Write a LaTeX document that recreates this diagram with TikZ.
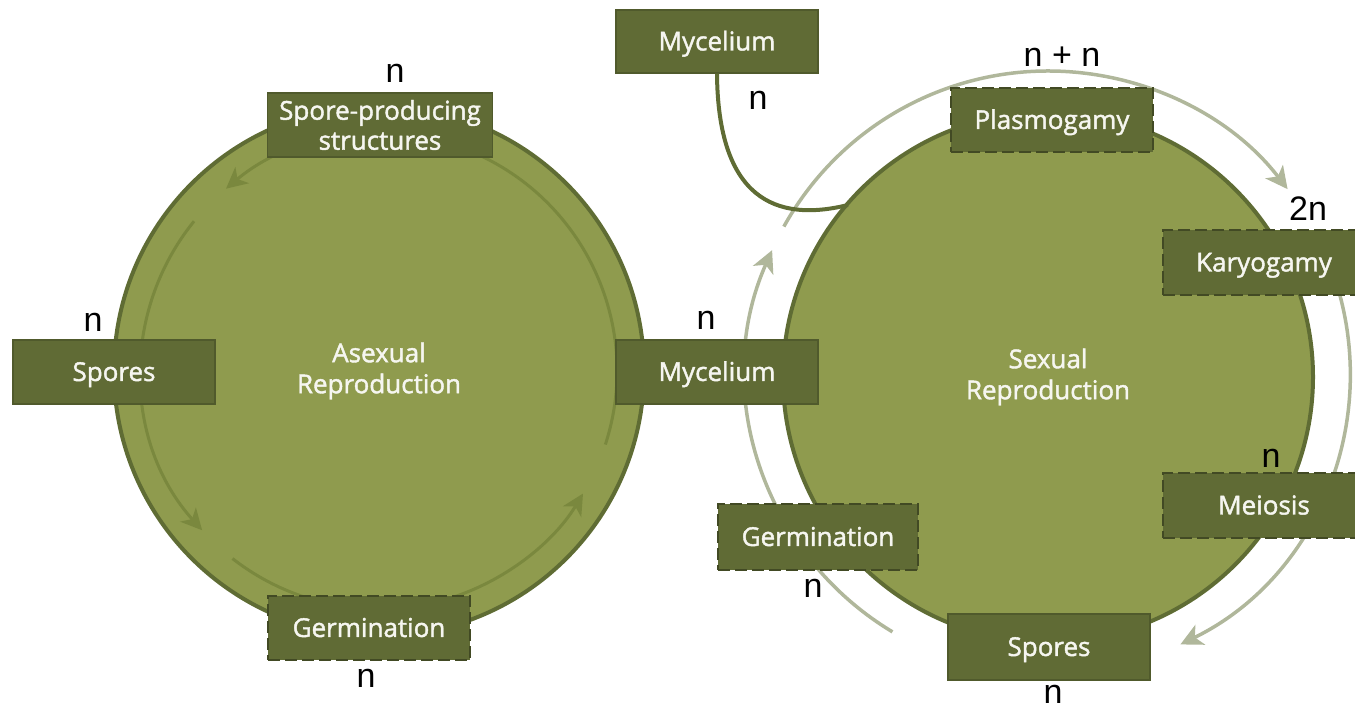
\documentclass[tikz,border=0pt]{standalone}
\usepackage{fontspec}
\setmainfont{Open Sans}
\newfontfamily\boxfont{Open Sans}[RawFeature={embolden=1.6}]
\newfontfamily\labelfont{Liberation Sans}
\usetikzlibrary{arrows.meta}
\definecolor{circfill}{RGB}{143,155,78}
\definecolor{circline}{RGB}{95,108,52}
\definecolor{boxfill}{RGB}{96,107,53}
\definecolor{boxline}{RGB}{80,90,44}
\definecolor{dashline}{RGB}{66,74,36}
\definecolor{innerarc}{RGB}{122,136,62}
\definecolor{outerarc}{RGB}{176,183,155}
\definecolor{txt}{RGB}{246,246,240}
\begin{document}
\begin{tikzpicture}[x=1pt,y=1pt,
  box/.style={draw=boxline, fill=boxfill, line width=1.4pt, minimum width=202pt, minimum height=64pt,
    inner sep=0pt, text=txt, font=\boxfont\fontsize{26}{30}\selectfont, text height=18pt, text depth=0pt},
  dbox/.style={box, draw=dashline, dash pattern=on 12pt off 5pt},
  lbl/.style={font=\labelfont\fontsize{34}{40}\selectfont, inner sep=0pt, text=black},
  cyc/.style={circle, draw=circline, fill=circfill, line width=4pt, minimum size=530pt, inner sep=0pt,
    text=txt, align=center, font=\boxfont\fontsize{26}{31}\selectfont},
  inarc/.style={draw=innerarc, line width=3pt, -{Stealth[length=21pt,width=21pt,inset=6pt]}},
  outarc/.style={draw=outerarc, line width=3.5pt, -{Stealth[length=22pt,width=22pt,inset=6pt]}}
]
\useasboundingbox (0,0) rectangle (1355,708);

% outer arcs of sexual cycle
\coordinate (rc) at (1048,335);
\draw[outarc] (rc) ++(239:302) arc[start angle=239, end angle=156, radius=302];
\draw[outarc] (rc) ++(151:302) arc[start angle=151, end angle=37.5, radius=302];
\draw[outarc] (rc) ++(25:302) arc[start angle=25, end angle=-64, radius=302];

% circles
\node[cyc] (L) at (379,337) {Asexual\\Reproduction};
\node[cyc] (R) at (1048,331) {Sexual\\Reproduction};

% inner arcs of asexual cycle
\draw[inarc] (L.center) ++(141:238) arc[start angle=141, end angle=222, radius=238];
\draw[inarc] (L.center) ++(232:238) arc[start angle=232, end angle=329, radius=238];
\draw[inarc] (L.center) ++(342:238) arc[start angle=342, end angle=490, radius=238];

% boxes
\node[box, minimum width=225pt, text height=, text depth=, align=center] (spp) at (380,583) {Spore-producing\\structures};
\node[box] (sporesL) at (114,336) {Spores};
\node[dbox] (germL) at (369,80) {Germination};
\node[box] (mycMid) at (717,336) {Mycelium};
\node[box, minimum height=63pt] (mycTop) at (717,666.5) {Mycelium};

% mycelium curve
\coordinate (mycend) at (848,503);
\draw[circline, line width=4pt] (mycTop.south) .. controls (718,510) and (775,485) .. (mycend);

\node[dbox] (plasmo) at (1052,588) {Plasmogamy};
\node[dbox, minimum height=65pt] (karyo) at (1264,445.5) {Karyogamy};
\node[dbox, minimum height=65pt] (meiosis) at (1264,202.5) {Meiosis};
\node[dbox, minimum width=200pt, minimum height=66pt] (germR) at (818,171) {Germination};
\node[box, minimum height=66pt] (sporesR) at (1049,61) {Spores};

% ploidy labels
\node[lbl] (l1) at (395,635) {n};
\node[lbl] (l2) at (93,386) {n};
\node[lbl] (l3) at (366,30) {n};
\node[lbl] (l4) at (706,388) {n};
\node[lbl] (l5) at (758,608) {n};
\node[lbl] (l6) at (1062,651) {n + n};
\node[lbl] (l7) at (1308,499) {2n};
\node[lbl] (l8) at (1271,250) {n};
\node[lbl] (l9) at (813,120) {n};
\node[lbl] (l10) at (1053,14) {n};
\end{tikzpicture}
\end{document}
